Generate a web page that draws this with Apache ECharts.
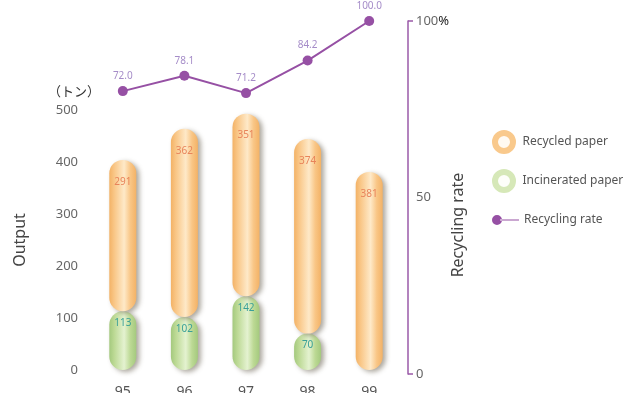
<!DOCTYPE html>
<html>
<head>
<meta charset="utf-8">
<script src="https://cdn.jsdelivr.net/npm/echarts@6/dist/echarts.min.js"></script>
<style>
  html, body { margin: 0; padding: 0; background: #fff; }
  #chart { width: 634px; height: 393px; }
</style>
</head>
<body>
<div id="chart"></div>
<script>
// Yearly paper output (tons) and recycling rate (%)
const years = ['95', '96', '97', '98', '99'];
const recycledPaper = [291, 362, 351, 374, 381];
const incineratedPaper = [113, 102, 142, 70, 0];
const recyclingRate = [72.0, 78.1, 71.2, 84.2, 100.0];
const outputTicks = { min: 0, max: 500, step: 100 };
const rateTicks = { min: 0, max: 100, step: 50 };

const FONT = '"Noto Sans", "Noto Sans CJK JP", sans-serif';

function capsuleGradient(edge, base, light) {
  return new echarts.graphic.LinearGradient(0, 0, 1, 0, [
    { offset: 0, color: edge },
    { offset: 0.18, color: base },
    { offset: 0.55, color: light },
    { offset: 0.78, color: base },
    { offset: 1, color: edge }
  ]);
}

const chart = echarts.init(document.getElementById('chart'), null, { renderer: 'canvas' });

const legendLineIcon = 'path://M0,5a5,5 0 1,0 10,0a5,5 0 1,0 -10,0Z M8,4.4L27,4.4L27,5.6L8,5.6Z';
const legendText = { color: '#555', fontSize: 12, fontFamily: FONT };

// one legend block per entry so each row sits at its own height
function legendRow(top, item, h) {
  return {
    orient: 'vertical', left: 487, top: top,
    itemWidth: 27, itemHeight: h, itemGap: 0,
    textStyle: legendText, data: [item]
  };
}

chart.setOption({
  animation: false,
  textStyle: { fontFamily: FONT },
  grid: [
    { left: 92, right: 234, top: 110, height: 260, outerBoundsMode: 'none' },
    { left: 92, right: 234, top: 21, height: 353, outerBoundsMode: 'none' }
  ],
  xAxis: [
    {
      type: 'category', gridIndex: 0, data: years,
      axisLine: { show: false }, axisTick: { show: false },
      axisLabel: { color: '#555', fontSize: 14, margin: 15 }
    },
    { type: 'category', gridIndex: 1, data: years, show: false }
  ],
  yAxis: [
    {
      type: 'value', gridIndex: 0,
      min: outputTicks.min, max: outputTicks.max, interval: outputTicks.step,
      axisLine: { show: false }, axisTick: { show: false }, splitLine: { show: false },
      axisLabel: { color: '#666', fontSize: 13, margin: 14 },
      name: 'Output', nameLocation: 'middle', nameGap: 64, nameRotate: 90,
      nameTextStyle: { color: '#444', fontSize: 16 }
    },
    {
      type: 'value', gridIndex: 1, position: 'right', offset: 8,
      min: rateTicks.min, max: rateTicks.max, interval: rateTicks.step,
      axisLine: { show: true, lineStyle: { color: '#9a5aa8', width: 1.5 } },
      axisTick: { show: true, customValues: [rateTicks.min, rateTicks.max], length: 5,
                  lineStyle: { color: '#9a5aa8', width: 1.5 } },
      splitLine: { show: false },
      axisLabel: {
        color: '#666', fontSize: 13, margin: 8,
        formatter: v => v === rateTicks.max ? '{n|' + v + '}{p|%}' : String(v),
        rich: { n: { color: '#666', fontSize: 13 }, p: { color: '#222', fontSize: 13 } }
      }
    },
    { type: 'value', gridIndex: 1, min: -41, max: 100, show: false }
  ],
  legend: [
    legendRow(125, { name: 'Recycled paper', icon: 'circle',
      itemStyle: { color: '#fffaf2', borderColor: '#f9c98c', borderWidth: 6 } }, 18),
    legendRow(164, { name: 'Incinerated paper', icon: 'circle',
      itemStyle: { color: '#fdfef9', borderColor: '#d6e8b8', borderWidth: 6 } }, 18),
    legendRow(209, { name: 'Recycling rate', icon: legendLineIcon }, 16)
  ],
  graphic: [
    { type: 'text', left: 48, top: 85,
      style: { text: '（トン）', fill: '#333', fontSize: 13, fontFamily: '"Noto Sans CJK JP", sans-serif' } },
    { type: 'text', x: 450, y: 225, rotation: Math.PI / 2,
      style: { text: 'Recycling rate', fill: '#444', fontSize: 16, fontFamily: FONT,
               align: 'center', verticalAlign: 'top' } }
  ],
  series: [
    {
      name: 'Incinerated paper', type: 'bar', stack: 'paper',
      xAxisIndex: 0, yAxisIndex: 0, barWidth: 27,
      data: incineratedPaper,
      itemStyle: {
        color: capsuleGradient('#a4c97e', '#bcd994', '#e4f2d0'),
        borderRadius: 13.5,
        shadowBlur: 5, shadowOffsetX: 3, shadowOffsetY: 2,
        shadowColor: 'rgba(70,60,40,0.45)'
      },
      label: {
        show: true, position: 'insideTop', distance: 7,
        color: '#3aa097', fontSize: 10,
        formatter: p => p.value ? String(p.value) : ''
      }
    },
    {
      name: 'Recycled paper', type: 'bar', stack: 'paper',
      xAxisIndex: 0, yAxisIndex: 0, barWidth: 27,
      data: recycledPaper,
      itemStyle: {
        color: capsuleGradient('#f3b266', '#f9c686', '#fee9c8'),
        borderRadius: 13.5,
        shadowBlur: 5, shadowOffsetX: 3, shadowOffsetY: 2,
        shadowColor: 'rgba(70,60,40,0.45)'
      },
      label: {
        show: true, position: 'insideTop', distance: 17,
        color: '#e8845a', fontSize: 10
      }
    },
    {
      name: 'Recycling rate', type: 'line',
      xAxisIndex: 1, yAxisIndex: 2,
      data: recyclingRate,
      symbol: 'circle', symbolSize: 10,
      lineStyle: { color: '#9650a4', width: 2 },
      itemStyle: { color: '#9650a4' },
      label: {
        show: true, position: 'top', distance: 5,
        color: '#a58cc8', fontSize: 10,
        formatter: p => p.value.toFixed(1)
      },
      z: 5
    }
  ]
});
</script>
</body>
</html>
